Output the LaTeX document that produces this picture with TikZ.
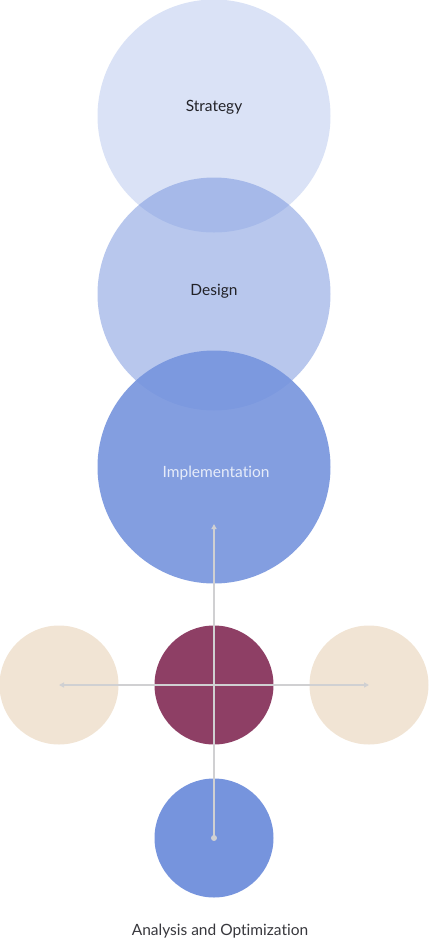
\documentclass[tikz,border=0pt]{standalone}
\usepackage{fontspec}
\setmainfont{Lato}[Ligatures=NoCommon]
\usepackage{tikz}
\usetikzlibrary{arrows.meta,positioning}
\definecolor{phblue}{RGB}{118,148,221}
\definecolor{phplum}{RGB}{142,63,101}
\definecolor{phsand}{RGB}{241,228,212}
\definecolor{phgrey}{RGB}{208,208,210}
\definecolor{phtext}{RGB}{34,34,40}
\tikzstyle{bigcirc} = [circle, draw=none, inner sep=0pt, minimum size=233pt]
\tikzstyle{smallcirc} = [circle, draw=none, inner sep=0pt, minimum size=119pt]
\tikzstyle{label} = [font=\fontsize{15.5}{18}\selectfont, color=phtext]
\tikzstyle{arrow} = [line width=1.3pt, color=phgrey, -{Triangle[length=5pt,width=5pt]}]

\begin{document}
\begin{tikzpicture}[x=1pt, y=-1pt]
\useasboundingbox (0,0) rectangle (429,946);

% Phase circles
\node[bigcirc, fill=phblue, fill opacity=0.27] (strategy) at (214,116) {};
\node[bigcirc, fill=phblue, fill opacity=0.52] (design) at (214,294) {};
\node[bigcirc, fill=phblue, fill opacity=0.9] (implement) at (214,467) {};

% Small circles
\node[smallcirc, fill=phsand] (left) at (59,685) {};
\node[smallcirc, fill=phplum] (hub) at (214,685) {};
\node[smallcirc, fill=phsand] (right) at (369,685) {};
\node[smallcirc, fill=phblue] (analysis) at (214,838) {};

% Connectors
\coordinate (uptip) at (214,524);
\draw[arrow] (analysis.center) -- (uptip);
\draw[arrow] (hub.center) -- (left.center);
\draw[arrow] (hub.center) -- (right.center);
\fill[phgrey] (analysis.center) circle (3pt);

% Labels
\node[label] (tstrategy) at (214,107) {Strategy};
\node[label] (tdesign) at (214,291) {Design};
\node[label, color=white, opacity=0.8] (timplement) at (216,473) {Implementation};
\node[label, color=phtext!90] (tanalysis) at (220,931) {Analysis and Optimization};
\end{tikzpicture}
\end{document}
